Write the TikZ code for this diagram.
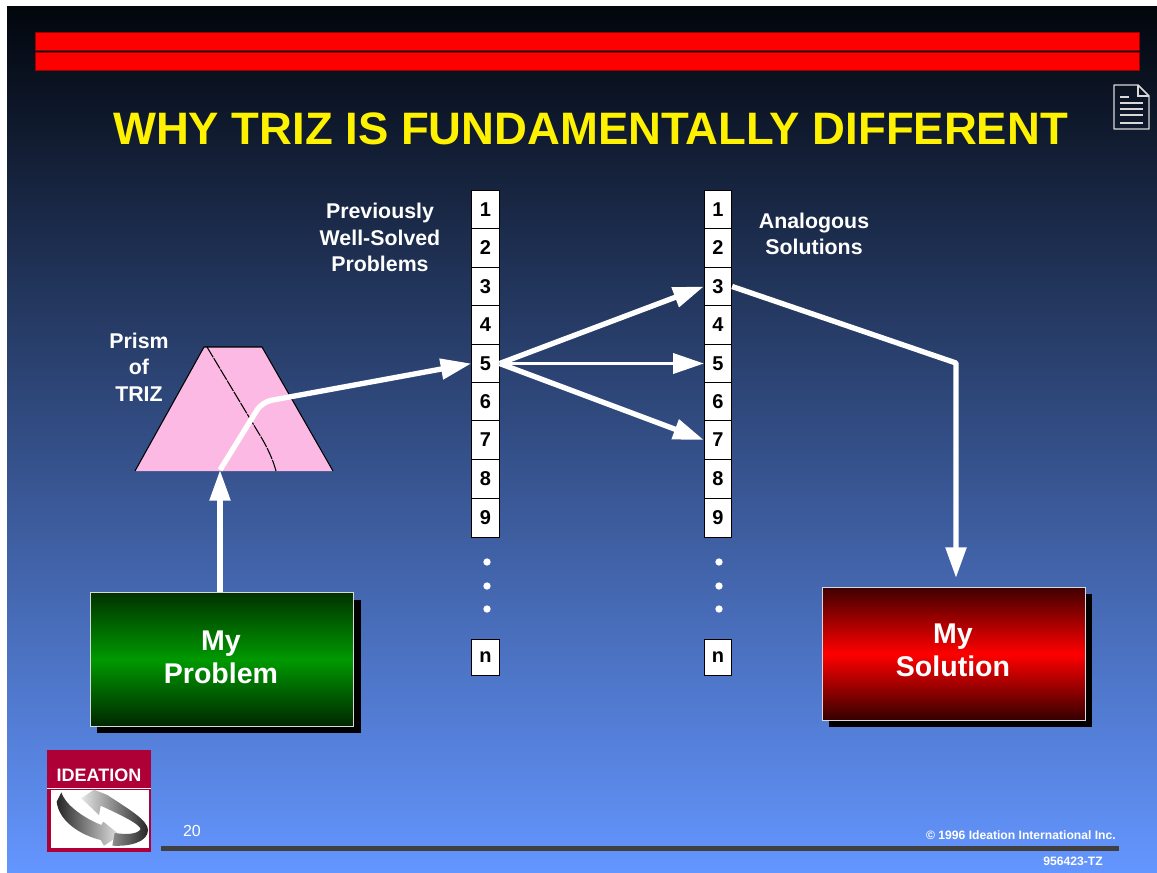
\documentclass[tikz,border=0pt]{standalone}
\usepackage{fontspec}
\setmainfont{Liberation Sans}
\usetikzlibrary{arrows.meta}
\definecolor{bgtop}{HTML}{02060C}
\definecolor{bgmid}{HTML}{34508F}
\definecolor{bgbot}{HTML}{6496FF}
\definecolor{crim}{HTML}{AE0036}
\definecolor{pinkp}{HTML}{FBB9E3}
\tikzset{
  cell/.style={draw=black,line width=0.6pt,fill=white,minimum width=20.6pt,minimum height=28.9pt,inner sep=0pt,text=black,font=\fontsize{15}{15}\selectfont\bfseries},
  cellend/.style={cell,minimum height=27pt},
  label/.style={text=white,align=center,inner sep=0pt,font=\fontsize{16}{20}\selectfont\bfseries},
  bigbox/.style={draw=white!85!black,line width=0.9pt,minimum width=197.5pt,minimum height=100pt,inner sep=0pt},
  boxtext/.style={text=white,align=center,inner sep=0pt,font=\fontsize{21.4}{24.8}\selectfont\bfseries},
  flow/.style={draw=white,line width=4pt,line join=round},
  flowhead/.style={flow,-{Triangle[length=23pt,width=15pt]}},
  flowthin/.style={flowhead,line width=2.6pt},
  dot/.style={fill=white,circle,minimum size=5.5pt,inner sep=0pt},
  tiny/.style={text=white,inner sep=0pt,font=\fontsize{9.1}{10}\selectfont\bfseries},
  redbar/.style={fill=red,draw=red!60!black,line width=0.7pt},
}
\begin{document}
\begin{tikzpicture}[x=0.75pt,y=-0.75pt]
\useasboundingbox (0,0) rectangle (1157,872);
\fill[white] (0,0) rectangle (1157,872);
% background
\shade[top color=bgtop,middle color=bgmid,bottom color=bgbot] (7,6) rectangle (1157,872);
% red bars
\path[redbar] (35,32) rectangle (1139,50);
\path[redbar] (35,52) rectangle (1139,70);
% title
\node[text=yellow,inner sep=0pt,font=\fontsize{34.1}{40}\selectfont\bfseries] (title) at (590.5,129) {WHY TRIZ IS FUNDAMENTALLY DIFFERENT};
% document icon
\draw[white!85!black,line width=1.1pt,line join=round] (1114,85) -- (1138,85) -- (1149,96) -- (1149,129) -- (1114,129) -- cycle;
\draw[white!85!black,line width=1.1pt] (1138,85) -- (1138,96) -- (1149,96);
\draw[white!85!black,line width=1.4pt] (1120,97) -- (1129,97) (1120,103) -- (1143,103) (1120,109) -- (1143,109) (1120,115) -- (1143,115) (1120,123) -- (1143,123);
% prism
\fill[pinkp] (135,471) -- (204,347) -- (262,347) -- (333,471) -- cycle;
\draw[black,line width=0.8pt] (135,471) -- (204,347) -- (262,347) -- (333,471);
\draw[black,line width=0.8pt,dash pattern=on 9pt off 0.8pt] (207,347) -- (258,432) .. controls (268,448) and (273,460) .. (276,471);
% labels
\node[label] (prismlabel) at (139,367) {Prism\\of\\TRIZ};
\node[label] (prev) at (380,237.5) {Previously\\Well-Solved\\Problems};
\node[label] (analog) at (814,234) {Analogous\\Solutions};
% cells
\foreach \n/\y/\t in {1/210/1,2/248/2,3/286.5/3,4/325/4,5/363.5/5,6/401.5/6,7/440/7,8/479/8,9/518/9}{
  \node[cell] (L\n) at (485.5,\y) {\t};
  \node[cell] (R\n) at (718,\y) {\t};
}
\node[cellend] (Ln) at (485.5,657) {n};
\node[cellend] (Rn) at (718,657) {n};
\foreach \y/\k in {562/a,586/b,609/c}{
  \node[dot] (Ld\k) at (487,\y) {};
  \node[dot] (Rd\k) at (719,\y) {};
}
% big boxes
\fill[black] (97,600) rectangle (361,733);
\fill[black] (829,594) rectangle (1092,727);
\node[bigbox,top color=green!20!black,bottom color=green!15!black,middle color=green!60!black] (problem) at (222,659.5) {};
\node[bigbox,top color=red!25!black,bottom color=red!20!black,middle color=red] (solution) at (954,654) {};
\node[boxtext] (problemtext) at (221,657.5) {My\\Problem};
\node[boxtext] (solutiontext) at (953,650.5) {My\\Solution};
% connectors
\coordinate (pin) at (220,470);
\coordinate (pbend) at (262,402);
\coordinate (sbend) at (956,363);
\coordinate (sarr) at (956,578);
\draw[flowhead,rounded corners=7pt] (pin) -- (pbend) -- (L5.west);
\draw[flowhead] (problem.north -| pin) -- (pin);
\draw[flowhead] (L5.east) -- (R3.west);
\draw[flowthin] (L5.east) -- (R5.west);
\draw[flowhead] (L5.east) -- (R7.west);
\draw[flowhead] (R3.east) -- (sbend) -- (sarr);
% logo
\fill[crim] (47,750) rectangle (151,852);
\fill[white] (51,790) rectangle (149,848);
\draw[white,line width=1pt] (47,788.5) -- (151,788.5);
\node[text=white,inner sep=0pt,font=\fontsize{13.5}{14}\selectfont\bfseries] (ideation) at (99,775) {IDEATION};
\begin{scope}[shift={(44,785)},x=0.25pt,y=-0.25pt]
\shade[left color=black!85,middle color=black!40,right color=black!10]
  (52,22) .. controls (62,55) and (110,95) .. (172,120) -- (178,110) -- (228,150) -- (180,182) -- (170,165)
  .. controls (110,150) and (45,110) .. (38,50) -- cycle;
\shade[right color=black!85,middle color=black!35,left color=black!10]
  (205,182) .. controls (260,185) and (312,170) .. (312,135) .. controls (312,105) and (250,70) .. (190,30)
  -- (150,14) -- (112,40) -- (165,90) -- (170,62) .. controls (220,85) and (285,115) .. (290,132)
  .. controls (280,150) and (240,148) .. (212,144) -- cycle;
\end{scope}
% footer
\fill[black!75] (161,846) rectangle (1119,851);
\node[text=white,inner sep=0pt,font=\fontsize{12}{12}\selectfont] (page) at (192,831) {20};
\node[tiny,anchor=east] (copy) at (1116,835) {© 1996 Ideation International Inc.};
\node[tiny,anchor=east] (code) at (1103,861) {956423-TZ};
\end{tikzpicture}
\end{document}
